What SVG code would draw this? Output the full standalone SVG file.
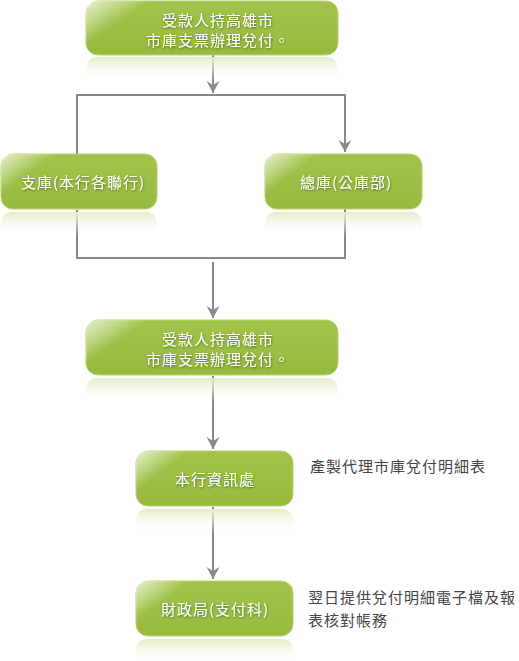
<svg xmlns="http://www.w3.org/2000/svg" width="519" height="661" viewBox="0 0 519 661">
<style>
.box{fill:url(#g);stroke:#b7d36e;stroke-width:1}
.refl{fill:url(#r)}
.gloss{fill:url(#gl)}
.bt{font-family:"Noto Sans CJK TC","Noto Sans CJK SC",sans-serif;font-size:15px;letter-spacing:1px;fill:#fff;text-anchor:middle;filter:url(#sh)}
.nt{font-family:"Noto Sans CJK TC","Noto Sans CJK SC",sans-serif;font-size:15px;letter-spacing:1px;fill:#444}
.ln{fill:none;stroke:#898989;stroke-width:2}
</style>
<defs>
<linearGradient id="g" x1="0" y1="0" x2="0" y2="1">
<stop offset="0" stop-color="#a3c44c"/>
<stop offset="1" stop-color="#96ba3e"/>
</linearGradient>
<linearGradient id="r" x1="0" y1="0" x2="0" y2="1">
<stop offset="0" stop-color="#e2edc6"/>
<stop offset="1" stop-color="#ffffff" stop-opacity="0"/>
</linearGradient>
<linearGradient id="gl" x1="0" y1="0" x2="1" y2="1">
<stop offset="0" stop-color="#ffffff" stop-opacity="0.75"/>
<stop offset="0.5" stop-color="#ffffff" stop-opacity="0"/>
</linearGradient>
<filter id="sh" x="-10%" y="-30%" width="120%" height="160%">
<feDropShadow dx="0.5" dy="1" stdDeviation="1" flood-color="#000" flood-opacity="0.45"/>
</filter>
<marker id="ah" markerUnits="userSpaceOnUse" markerWidth="14" markerHeight="14" refX="12" refY="6.5" orient="auto">
<path d="M12,6.5 L0,0 L4,6.5 L0,13 Z" fill="#898989"/>
</marker>
</defs>
<g id="connectors">
<path class="ln" d="M213,55 V93" marker-end="url(#ah)"/>
<path class="ln" d="M77,154 V95 H345 V152" marker-end="url(#ah)"/>
<path class="ln" d="M77,210 V258 H345 V209"/>
<path class="ln" d="M213,262 V318" marker-end="url(#ah)"/>
<path class="ln" d="M213,376 V449" marker-end="url(#ah)"/>
<path class="ln" d="M213,507 V579" marker-end="url(#ah)"/>
</g>
<g id="n1">
<path class="refl" d="M86,81 V70 Q86,57 98,57 H326 Q338,57 338,70 V81 Z"/>
<rect class="box" x="86" y="1" width="252" height="54" rx="12"/>
<path class="gloss" d="M98,1 H150 L86,45 V13 Q86,1 98,1 Z"/>
<text class="bt" x="218" y="26">受款人持高雄市</text>
<text class="bt" x="218" y="46">市庫支票辦理兌付。</text>
</g>
<g id="n2">
<path class="refl" d="M1,236 V224 Q1,212 13,212 H145 Q157,212 157,224 V236 Z"/>
<rect class="box" x="1" y="154" width="156" height="55" rx="12"/>
<path class="gloss" d="M13,154 H55 L1,195 V166 Q1,154 13,154 Z"/>
<text class="bt" x="83" y="188">支庫(本行各聯行)</text>
</g>
<g id="n3">
<path class="refl" d="M265,236 V224 Q265,212 277,212 H410 Q422,212 422,224 V236 Z"/>
<rect class="box" x="265" y="154" width="157" height="55" rx="12"/>
<path class="gloss" d="M277,154 H319 L265,195 V166 Q265,154 277,154 Z"/>
<text class="bt" x="346" y="188">總庫(公庫部)</text>
</g>
<g id="n4">
<path class="refl" d="M86,402 V390 Q86,378 98,378 H326 Q338,378 338,390 V402 Z"/>
<rect class="box" x="86" y="320" width="252" height="55" rx="12"/>
<path class="gloss" d="M98,320 H150 L86,364 V332 Q86,320 98,320 Z"/>
<text class="bt" x="218" y="345">受款人持高雄市</text>
<text class="bt" x="218" y="365">市庫支票辦理兌付。</text>
</g>
<g id="n5">
<path class="refl" d="M136,533 V521 Q136,509 148,509 H281 Q293,509 293,521 V533 Z"/>
<rect class="box" x="136" y="451" width="157" height="55" rx="12"/>
<path class="gloss" d="M148,451 H190 L136,492 V463 Q136,451 148,451 Z"/>
<text class="bt" x="215" y="485">本行資訊處</text>
</g>
<g id="n6">
<path class="refl" d="M136,663 V651 Q136,639 148,639 H281 Q293,639 293,651 V663 Z"/>
<rect class="box" x="136" y="581" width="157" height="55" rx="12"/>
<path class="gloss" d="M148,581 H190 L136,622 V593 Q136,581 148,581 Z"/>
<text class="bt" x="215" y="615">財政局(支付科)</text>
</g>
<g id="notes">
<text class="nt" x="310" y="472">產製代理市庫兌付明細表</text>
<text class="nt" x="308" y="603">翌日提供兌付明細電子檔及報</text>
<text class="nt" x="308" y="626">表核對帳務</text>
</g>
</svg>
